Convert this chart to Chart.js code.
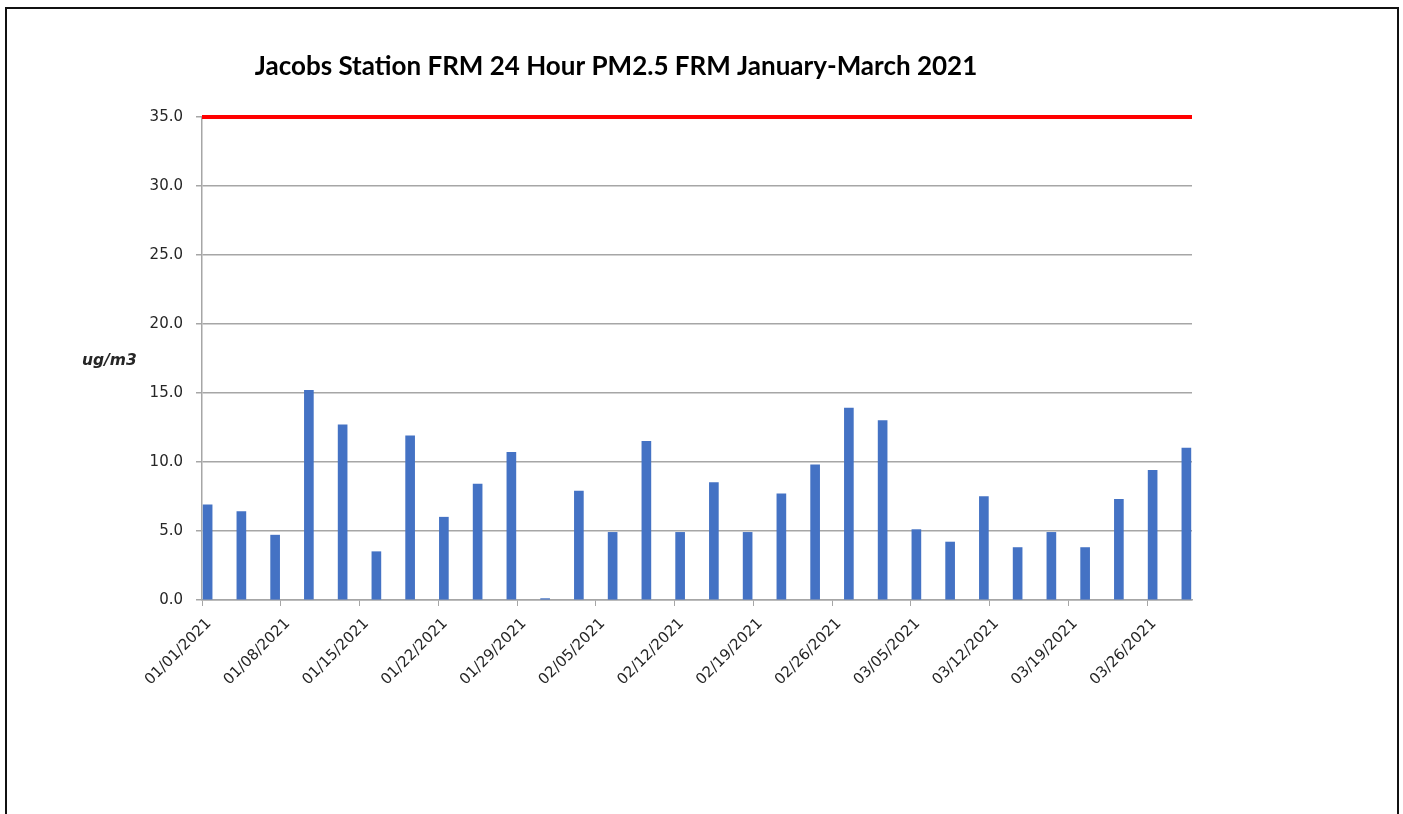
<!DOCTYPE html>
<html>
<head>
<meta charset="utf-8">
<title>Jacobs Station FRM 24 Hour PM2.5</title>
<script src="https://cdn.jsdelivr.net/npm/chart.js@4.4.1/dist/chart.umd.min.js"></script>
<style>
  html, body { margin: 0; padding: 0; background: #fff; }
  canvas { display: block; }
</style>
</head>
<body>
<canvas id="pmChart" width="1403" height="814"></canvas>
<script>
// sample days (1-in-3 schedule) and 24 hour PM2.5 values, ug/m3
const sampleDates = [
  "01/01/2021", "01/04/2021", "01/07/2021", "01/10/2021", "01/13/2021",
  "01/16/2021", "01/19/2021", "01/22/2021", "01/25/2021", "01/28/2021",
  "01/31/2021", "02/03/2021", "02/06/2021", "02/09/2021", "02/12/2021",
  "02/15/2021", "02/18/2021", "02/21/2021", "02/24/2021", "02/27/2021",
  "03/02/2021", "03/05/2021", "03/08/2021", "03/11/2021", "03/14/2021",
  "03/17/2021", "03/20/2021", "03/23/2021", "03/26/2021", "03/29/2021"
];
const pmValues = [
  6.9, 6.4, 4.7, 15.2, 12.7,
  3.5, 11.9, 6.0, 8.4, 10.7,
  0.1, 7.9, 4.9, 11.5, 4.9,
  8.5, 4.9, 7.7, 9.8, 13.9,
  13.0, 5.1, 4.2, 7.5, 3.8,
  4.9, 3.8, 7.3, 9.4, 11.0
];
const xTickLabels = [
  "01/01/2021", "01/08/2021", "01/15/2021", "01/22/2021", "01/29/2021",
  "02/05/2021", "02/12/2021", "02/19/2021", "02/26/2021", "03/05/2021",
  "03/12/2021", "03/19/2021", "03/26/2021"
];
const yTicks = [0, 5, 10, 15, 20, 25, 30, 35];
const standardLevel = 35;
const axisStart = "01/01/2021";
const axisEnd = "03/30/2021";

const chartTitle = "Jacobs Station FRM 24 Hour PM2.5 FRM January-March 2021";
const unitLabel = "ug/m3";

const DAY = 24 * 3600 * 1000;
const toDay = (s) => {
  const [m, d, y] = s.split("/").map(Number);
  return Math.round((Date.UTC(y, m - 1, d) - Date.UTC(2021, 0, 1)) / DAY);
};
const xMin = toDay(axisStart);
const xMax = toDay(axisEnd);

const GRID = "#a6a6a6";
const TEXT = "#262626";
const tickFont = { family: "'DejaVu Sans', Verdana, sans-serif", size: 15 };

// frame, title and horizontal unit label
const decorations = {
  id: "decorations",
  afterDraw(chart) {
    const ctx = chart.ctx;
    ctx.save();
    ctx.strokeStyle = "#111";
    ctx.lineWidth = 2;
    ctx.beginPath();
    ctx.moveTo(6, 814);
    ctx.lineTo(6, 8);
    ctx.lineTo(1398, 8);
    ctx.lineTo(1398, 814);
    ctx.stroke();

    ctx.fillStyle = "#000";
    ctx.textAlign = "center";
    ctx.textBaseline = "alphabetic";
    ctx.font = "bold 26px Lato, 'Open Sans', sans-serif";
    ctx.fillText(chartTitle, 616, 75);

    ctx.font = "italic bold 15.5px 'DejaVu Sans', sans-serif";
    ctx.fillStyle = TEXT;
    ctx.textAlign = "left";
    ctx.fillText(unitLabel, 82, 365);
    ctx.restore();
  }
};

new Chart(document.getElementById("pmChart"), {
  data: {
    datasets: [
      {
        type: "bar",
        label: "PM2.5",
        data: sampleDates.map((d, i) => ({ x: toDay(d) + 0.5, y: pmValues[i] })),
        backgroundColor: "#4472c4",
        barThickness: 9,
        order: 2
      },
      {
        type: "line",
        label: "Standard",
        data: [{ x: xMin, y: standardLevel }, { x: xMax, y: standardLevel }],
        borderColor: "#ff0000",
        borderWidth: 4,
        pointRadius: 0,
        clip: false,
        order: 1
      }
    ]
  },
  options: {
    responsive: false,
    animation: false,
    layout: { padding: { left: 0, right: 211, top: 117, bottom: 0 } },
    plugins: {
      legend: { display: false },
      tooltip: { enabled: false },
      title: { display: false }
    },
    scales: {
      x: {
        type: "linear",
        offset: false,
        min: xMin,
        max: xMax,
        afterBuildTicks: (scale) => {
          scale.ticks = xTickLabels.map((t) => ({ value: toDay(t) }));
        },
        afterFit: (scale) => { scale.height = 214; },
        ticks: {
          autoSkip: false,
          maxRotation: 45,
          minRotation: 45,
          padding: 9,
          labelOffset: 7,
          color: TEXT,
          font: tickFont,
          callback: (v, i) => xTickLabels[i]
        },
        grid: { offset: false, drawOnChartArea: false, drawTicks: true, tickLength: 6, color: GRID },
        border: { display: true, color: GRID, width: 1.5 }
      },
      y: {
        min: 0,
        max: 35,
        afterBuildTicks: (scale) => {
          scale.ticks = yTicks.map((v) => ({ value: v }));
        },
        afterFit: (scale) => { scale.width = 202; },
        ticks: {
          padding: 13,
          color: TEXT,
          font: tickFont,
          callback: (v) => v.toFixed(1)
        },
        grid: { color: GRID, lineWidth: 1.5, tickLength: 6 },
        border: { display: true, color: GRID, width: 1.5 }
      }
    }
  },
  plugins: [decorations]
});
</script>
</body>
</html>
